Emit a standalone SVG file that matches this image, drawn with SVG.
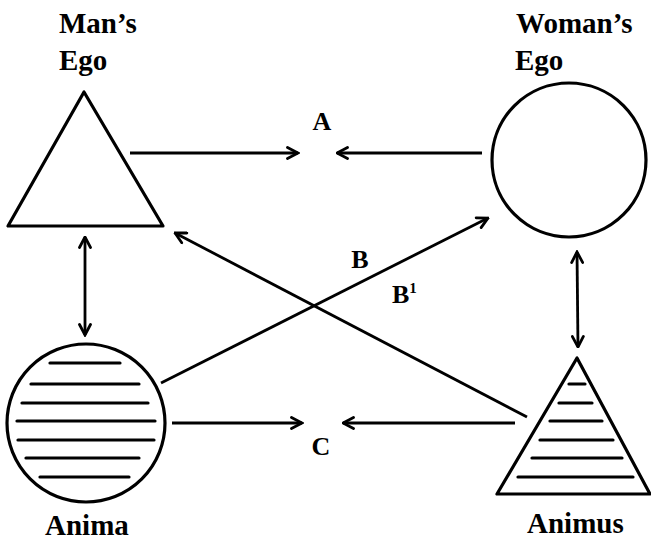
<svg xmlns="http://www.w3.org/2000/svg" width="651" height="541" viewBox="0 0 651 541">
<style>
.shape{fill:none;stroke:#000;stroke-width:3.2;stroke-linejoin:round}
.hatch{stroke:#000;stroke-width:3.2;stroke-linecap:round}
.conn{fill:none;stroke:#000;stroke-width:2.8}
.lbl{font-family:"Liberation Serif","Times New Roman",serif;font-weight:bold;font-size:29px;fill:#000}
.sm{font-family:"Liberation Serif","Times New Roman",serif;font-weight:bold;font-size:26px;fill:#000}
</style>
<defs>
<marker id="ah" viewBox="0 0 14 14" refX="12.5" refY="7" markerWidth="14" markerHeight="14" markerUnits="userSpaceOnUse" orient="auto-start-reverse">
<path d="M2,1.5 L12.5,7 L2,12.5" fill="none" stroke="#000" stroke-width="2.8" stroke-linejoin="miter" stroke-linecap="round"/>
</marker>
</defs>
<rect width="651" height="541" fill="#fff"/>
<g id="mans-ego">
<polygon class="shape" points="84,92 8,226 163,226"/>
<text class="lbl" x="59" y="33">Man’s</text>
<text class="lbl" x="59" y="70">Ego</text>
</g>
<g id="womans-ego">
<circle class="shape" cx="569" cy="160" r="77"/>
<text class="lbl" x="516" y="33">Woman’s</text>
<text class="lbl" x="515" y="70">Ego</text>
</g>
<g id="anima">
<circle class="shape" cx="86" cy="423" r="79"/>
<g class="hatch">
<line x1="50" y1="363" x2="120" y2="363"/>
<line x1="31" y1="384" x2="139" y2="384"/>
<line x1="22" y1="403" x2="148" y2="403"/>
<line x1="17" y1="421" x2="155" y2="421"/>
<line x1="18" y1="440" x2="154" y2="440"/>
<line x1="26" y1="458" x2="139" y2="458"/>
<line x1="40" y1="477" x2="129" y2="477"/>
</g>
<text class="lbl" x="45" y="535">Anima</text>
</g>
<g id="animus">
<polygon class="shape" points="577,358 497,494 650,494"/>
<g class="hatch">
<line x1="569" y1="384" x2="585" y2="384"/>
<line x1="559" y1="403" x2="592" y2="403"/>
<line x1="550" y1="421" x2="602" y2="421"/>
<line x1="540" y1="440" x2="613" y2="440"/>
<line x1="532" y1="458" x2="622" y2="458"/>
<line x1="518" y1="477" x2="633" y2="477"/>
</g>
<text class="lbl" x="527" y="533">Animus</text>
</g>
<g id="connectors">
<line class="conn" x1="130" y1="153" x2="298" y2="153" marker-end="url(#ah)"/>
<line class="conn" x1="482" y1="153" x2="337" y2="153" marker-end="url(#ah)"/>
<line class="conn" x1="172" y1="423" x2="302" y2="423" marker-end="url(#ah)"/>
<line class="conn" x1="515" y1="423" x2="343" y2="423" marker-end="url(#ah)"/>
<line class="conn" x1="85" y1="237" x2="85" y2="335" marker-start="url(#ah)" marker-end="url(#ah)"/>
<line class="conn" x1="577" y1="252" x2="578" y2="347" marker-start="url(#ah)" marker-end="url(#ah)"/>
<line class="conn" x1="161" y1="383" x2="488" y2="218" marker-end="url(#ah)"/>
<line class="conn" x1="527" y1="417" x2="175" y2="233" marker-end="url(#ah)"/>
</g>
<g id="labels">
<text class="sm" x="322" y="130" text-anchor="middle">A</text>
<text class="sm" x="360" y="268" text-anchor="middle">B</text>
<text class="sm" x="392" y="303">B<tspan font-size="15" dy="-10">1</tspan></text>
<text class="sm" x="321" y="455" text-anchor="middle">C</text>
</g>
</svg>
